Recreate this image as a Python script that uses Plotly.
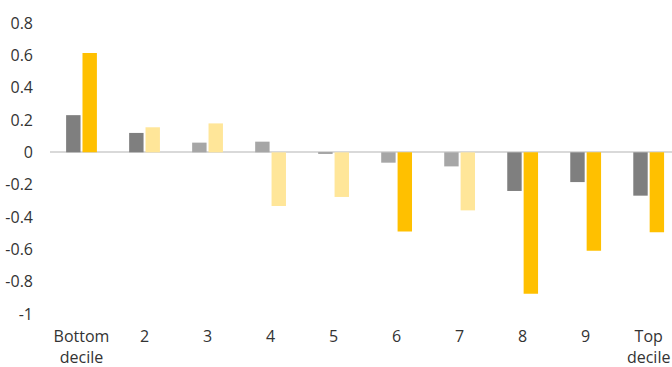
import plotly.graph_objects as go

categories = ["Bottom<br>decile", "2", "3", "4", "5", "6", "7", "8", "9", "Top<br>decile"]
series_a = [0.23, 0.12, 0.06, 0.066, -0.01, -0.064, -0.087, -0.239, -0.184, -0.268]
series_b = [0.614, 0.155, 0.179, -0.332, -0.276, -0.489, -0.359, -0.874, -0.608, -0.495]
sig_a = [True, True, False, False, False, False, False, True, True, True]
sig_b = [True, False, False, False, False, True, False, True, True, True]

GRAY_DARK, GRAY_LIGHT = "#7F7F7F", "#A6A6A6"
GOLD, GOLD_LIGHT = "#FFC000", "#FFE699"

x = list(range(len(categories)))
fig = go.Figure()
fig.add_trace(go.Bar(x=x, y=series_a,
                     marker=dict(color=[GRAY_DARK if s else GRAY_LIGHT for s in sig_a],
                                 line=dict(width=0))))
fig.add_trace(go.Bar(x=x, y=series_b,
                     marker=dict(color=[GOLD if s else GOLD_LIGHT for s in sig_b],
                                 line=dict(width=0))))

font = dict(family="Open Sans, Liberation Sans, sans-serif", size=16, color="#333333")
fig.update_layout(
    width=672, height=367,
    margin=dict(l=50, r=0, t=23, b=53),
    paper_bgcolor="white", plot_bgcolor="white",
    barmode="group", bargap=0.48, bargroupgap=0.12,
    showlegend=False, font=font,
    xaxis=dict(range=[-0.5, 9.37], tickmode="array", tickvals=x, ticktext=categories,
               showgrid=False, showline=False, ticks="", tickfont=font,
               ticklabelstandoff=11),
    yaxis=dict(range=[-1, 0.8], tickmode="array",
               tickvals=[0.8, 0.6, 0.4, 0.2, 0, -0.2, -0.4, -0.6, -0.8, -1],
               ticktext=["0.8", "0.6", "0.4", "0.2", "0", "-0.2", "-0.4", "-0.6", "-0.8", "-1"],
               showgrid=False, zeroline=True, zerolinecolor="#D9D9D9", zerolinewidth=1.5,
               ticks="", ticklabelstandoff=16, tickfont=font),
)
fig.write_html("out.html")
